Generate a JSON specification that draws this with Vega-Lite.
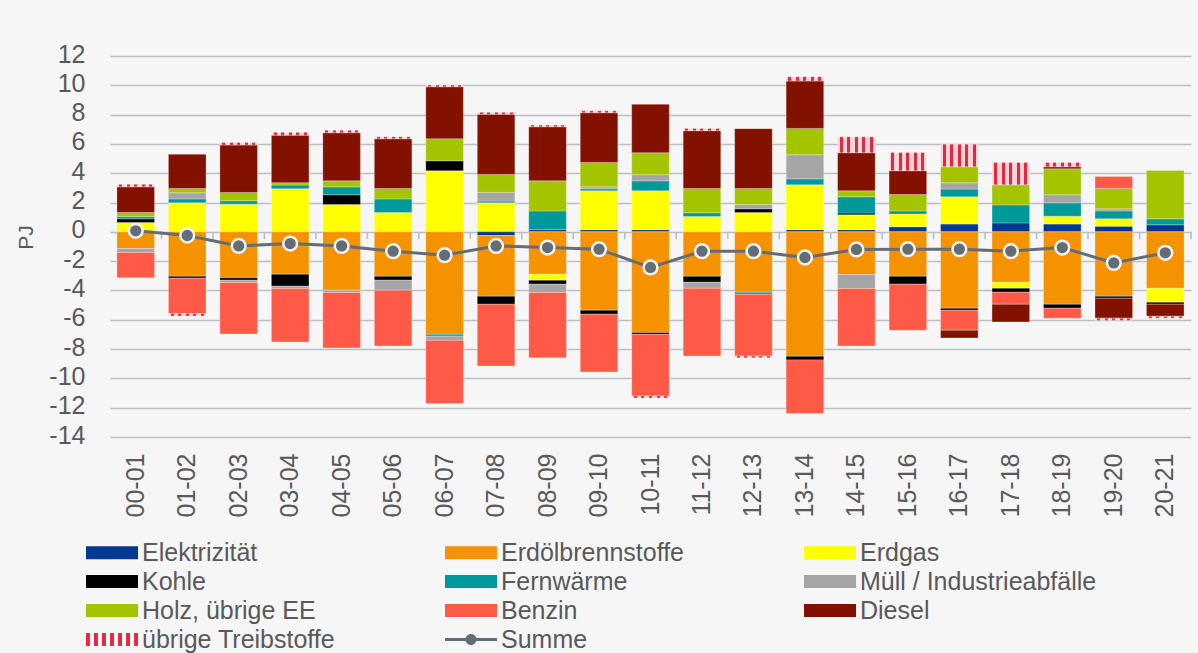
{
  "$schema": "https://vega.github.io/schema/vega-lite/v6.json",
  "width": 1081,
  "height": 381,
  "autosize": {"type": "none"},
  "padding": {"left": 110, "top": 56, "right": 7, "bottom": 216},
  "background": "#f6f6f6",
  "config": {
    "view": {"stroke": null},
    "font": "Liberation Sans",
    "axis": {"labelFont": "Liberation Sans", "titleFont": "Liberation Sans", "labelColor": "#595959", "titleColor": "#595959"}
  },
  "datasets": {
    "kinds": [
      {"k": "Elektrizität", "o": 1}, {"k": "Erdölbrennstoffe", "o": 2}, {"k": "Erdgas", "o": 3},
      {"k": "Kohle", "o": 4}, {"k": "Fernwärme", "o": 5}, {"k": "Müll / Industrieabfälle", "o": 6},
      {"k": "Holz, übrige EE", "o": 7}, {"k": "Benzin", "o": 8}, {"k": "Diesel", "o": 9},
      {"k": "übrige Treibstoffe", "o": 10}, {"k": "Summe", "o": 11}
    ],
    "vals": [
      {"p": "00-01", "k": "Erdgas", "v": 0.64}, {"p": "00-01", "k": "Kohle", "v": 0.25}, {"p": "00-01", "k": "Fernwärme", "v": 0.16}, {"p": "00-01", "k": "Holz, übrige EE", "v": 0.27}, {"p": "00-01", "k": "Diesel", "v": 1.75}, {"p": "00-01", "k": "übrige Treibstoffe", "v": 0.17}, {"p": "00-01", "k": "Erdölbrennstoffe", "v": -1.14}, {"p": "00-01", "k": "Müll / Industrieabfälle", "v": -0.27}, {"p": "00-01", "k": "Benzin", "v": -1.73}, {"p": "00-01", "k": "Summe", "v": 0.07},
      {"p": "01-02", "k": "Erdgas", "v": 1.98}, {"p": "01-02", "k": "Fernwärme", "v": 0.27}, {"p": "01-02", "k": "Müll / Industrieabfälle", "v": 0.42}, {"p": "01-02", "k": "Holz, übrige EE", "v": 0.29}, {"p": "01-02", "k": "Diesel", "v": 2.33}, {"p": "01-02", "k": "Erdölbrennstoffe", "v": -3.03}, {"p": "01-02", "k": "Kohle", "v": -0.13}, {"p": "01-02", "k": "Benzin", "v": -2.42}, {"p": "01-02", "k": "übrige Treibstoffe", "v": -0.16}, {"p": "01-02", "k": "Summe", "v": -0.25},
      {"p": "02-03", "k": "Erdgas", "v": 1.89}, {"p": "02-03", "k": "Fernwärme", "v": 0.23}, {"p": "02-03", "k": "Holz, übrige EE", "v": 0.57}, {"p": "02-03", "k": "Diesel", "v": 3.23}, {"p": "02-03", "k": "übrige Treibstoffe", "v": 0.18}, {"p": "02-03", "k": "Erdölbrennstoffe", "v": -3.14}, {"p": "02-03", "k": "Kohle", "v": -0.16}, {"p": "02-03", "k": "Müll / Industrieabfälle", "v": -0.16}, {"p": "02-03", "k": "Benzin", "v": -3.51}, {"p": "02-03", "k": "Summe", "v": -0.96},
      {"p": "03-04", "k": "Erdgas", "v": 2.94}, {"p": "03-04", "k": "Fernwärme", "v": 0.25}, {"p": "03-04", "k": "Holz, übrige EE", "v": 0.16}, {"p": "03-04", "k": "Diesel", "v": 3.25}, {"p": "03-04", "k": "übrige Treibstoffe", "v": 0.19}, {"p": "03-04", "k": "Erdölbrennstoffe", "v": -2.89}, {"p": "03-04", "k": "Kohle", "v": -0.82}, {"p": "03-04", "k": "Müll / Industrieabfälle", "v": -0.16}, {"p": "03-04", "k": "Benzin", "v": -3.64}, {"p": "03-04", "k": "Summe", "v": -0.8},
      {"p": "04-05", "k": "Erdgas", "v": 1.87}, {"p": "04-05", "k": "Kohle", "v": 0.66}, {"p": "04-05", "k": "Fernwärme", "v": 0.54}, {"p": "04-05", "k": "Holz, übrige EE", "v": 0.41}, {"p": "04-05", "k": "Diesel", "v": 3.28}, {"p": "04-05", "k": "übrige Treibstoffe", "v": 0.17}, {"p": "04-05", "k": "Erdölbrennstoffe", "v": -3.98}, {"p": "04-05", "k": "Müll / Industrieabfälle", "v": -0.16}, {"p": "04-05", "k": "Benzin", "v": -3.78}, {"p": "04-05", "k": "Summe", "v": -0.96},
      {"p": "05-06", "k": "Erdgas", "v": 1.32}, {"p": "05-06", "k": "Fernwärme", "v": 0.93}, {"p": "05-06", "k": "Holz, übrige EE", "v": 0.71}, {"p": "05-06", "k": "Diesel", "v": 3.39}, {"p": "05-06", "k": "übrige Treibstoffe", "v": 0.14}, {"p": "05-06", "k": "Erdölbrennstoffe", "v": -3.03}, {"p": "05-06", "k": "Kohle", "v": -0.27}, {"p": "05-06", "k": "Müll / Industrieabfälle", "v": -0.68}, {"p": "05-06", "k": "Benzin", "v": -3.81}, {"p": "05-06", "k": "Summe", "v": -1.32},
      {"p": "06-07", "k": "Erdgas", "v": 4.17}, {"p": "06-07", "k": "Kohle", "v": 0.68}, {"p": "06-07", "k": "Holz, übrige EE", "v": 1.5}, {"p": "06-07", "k": "Diesel", "v": 3.55}, {"p": "06-07", "k": "übrige Treibstoffe", "v": 0.12}, {"p": "06-07", "k": "Erdölbrennstoffe", "v": -6.99}, {"p": "06-07", "k": "Fernwärme", "v": -0.13}, {"p": "06-07", "k": "Müll / Industrieabfälle", "v": -0.28}, {"p": "06-07", "k": "Benzin", "v": -4.32}, {"p": "06-07", "k": "Summe", "v": -1.59},
      {"p": "07-08", "k": "Erdgas", "v": 1.98}, {"p": "07-08", "k": "Fernwärme", "v": 0.12}, {"p": "07-08", "k": "Müll / Industrieabfälle", "v": 0.59}, {"p": "07-08", "k": "Holz, übrige EE", "v": 1.23}, {"p": "07-08", "k": "Diesel", "v": 4.1}, {"p": "07-08", "k": "übrige Treibstoffe", "v": 0.14}, {"p": "07-08", "k": "Elektrizität", "v": -0.25}, {"p": "07-08", "k": "Erdölbrennstoffe", "v": -4.14}, {"p": "07-08", "k": "Kohle", "v": -0.55}, {"p": "07-08", "k": "Benzin", "v": -4.21}, {"p": "07-08", "k": "Summe", "v": -0.96},
      {"p": "08-09", "k": "Elektrizität", "v": 0.15}, {"p": "08-09", "k": "Fernwärme", "v": 1.28}, {"p": "08-09", "k": "Holz, übrige EE", "v": 2.05}, {"p": "08-09", "k": "Diesel", "v": 3.69}, {"p": "08-09", "k": "übrige Treibstoffe", "v": 0.12}, {"p": "08-09", "k": "Erdölbrennstoffe", "v": -2.89}, {"p": "08-09", "k": "Erdgas", "v": -0.41}, {"p": "08-09", "k": "Kohle", "v": -0.27}, {"p": "08-09", "k": "Müll / Industrieabfälle", "v": -0.57}, {"p": "08-09", "k": "Benzin", "v": -4.46}, {"p": "08-09", "k": "Summe", "v": -1.07},
      {"p": "09-10", "k": "Elektrizität", "v": 0.15}, {"p": "09-10", "k": "Erdgas", "v": 2.65}, {"p": "09-10", "k": "Fernwärme", "v": 0.14}, {"p": "09-10", "k": "Müll / Industrieabfälle", "v": 0.13}, {"p": "09-10", "k": "Holz, übrige EE", "v": 1.67}, {"p": "09-10", "k": "Diesel", "v": 3.39}, {"p": "09-10", "k": "übrige Treibstoffe", "v": 0.14}, {"p": "09-10", "k": "Erdölbrennstoffe", "v": -5.35}, {"p": "09-10", "k": "Kohle", "v": -0.27}, {"p": "09-10", "k": "Benzin", "v": -3.94}, {"p": "09-10", "k": "Summe", "v": -1.18},
      {"p": "10-11", "k": "Elektrizität", "v": 0.15}, {"p": "10-11", "k": "Erdgas", "v": 2.65}, {"p": "10-11", "k": "Fernwärme", "v": 0.68}, {"p": "10-11", "k": "Müll / Industrieabfälle", "v": 0.42}, {"p": "10-11", "k": "Holz, übrige EE", "v": 1.5}, {"p": "10-11", "k": "Diesel", "v": 3.3}, {"p": "10-11", "k": "Erdölbrennstoffe", "v": -6.87}, {"p": "10-11", "k": "Kohle", "v": -0.12}, {"p": "10-11", "k": "Benzin", "v": -4.21}, {"p": "10-11", "k": "übrige Treibstoffe", "v": -0.14}, {"p": "10-11", "k": "Summe", "v": -2.43},
      {"p": "11-12", "k": "Erdgas", "v": 1.05}, {"p": "11-12", "k": "Fernwärme", "v": 0.25}, {"p": "11-12", "k": "Holz, übrige EE", "v": 1.66}, {"p": "11-12", "k": "Diesel", "v": 3.94}, {"p": "11-12", "k": "übrige Treibstoffe", "v": 0.16}, {"p": "11-12", "k": "Erdölbrennstoffe", "v": -3.03}, {"p": "11-12", "k": "Kohle", "v": -0.41}, {"p": "11-12", "k": "Müll / Industrieabfälle", "v": -0.41}, {"p": "11-12", "k": "Benzin", "v": -4.62}, {"p": "11-12", "k": "Summe", "v": -1.32},
      {"p": "12-13", "k": "Erdgas", "v": 1.32}, {"p": "12-13", "k": "Kohle", "v": 0.25}, {"p": "12-13", "k": "Müll / Industrieabfälle", "v": 0.3}, {"p": "12-13", "k": "Holz, übrige EE", "v": 1.09}, {"p": "12-13", "k": "Diesel", "v": 4.08}, {"p": "12-13", "k": "Erdölbrennstoffe", "v": -4.12}, {"p": "12-13", "k": "Fernwärme", "v": -0.14}, {"p": "12-13", "k": "Benzin", "v": -4.21}, {"p": "12-13", "k": "übrige Treibstoffe", "v": -0.13}, {"p": "12-13", "k": "Summe", "v": -1.32},
      {"p": "13-14", "k": "Elektrizität", "v": 0.15}, {"p": "13-14", "k": "Erdgas", "v": 3.06}, {"p": "13-14", "k": "Fernwärme", "v": 0.41}, {"p": "13-14", "k": "Müll / Industrieabfälle", "v": 1.64}, {"p": "13-14", "k": "Holz, übrige EE", "v": 1.8}, {"p": "13-14", "k": "Diesel", "v": 3.23}, {"p": "13-14", "k": "übrige Treibstoffe", "v": 0.3}, {"p": "13-14", "k": "Erdölbrennstoffe", "v": -8.49}, {"p": "13-14", "k": "Kohle", "v": -0.25}, {"p": "13-14", "k": "Benzin", "v": -3.66}, {"p": "13-14", "k": "Summe", "v": -1.75},
      {"p": "14-15", "k": "Elektrizität", "v": 0.15}, {"p": "14-15", "k": "Erdgas", "v": 1.01}, {"p": "14-15", "k": "Kohle", "v": 0.12}, {"p": "14-15", "k": "Fernwärme", "v": 1.11}, {"p": "14-15", "k": "Holz, übrige EE", "v": 0.41}, {"p": "14-15", "k": "Diesel", "v": 2.6}, {"p": "14-15", "k": "übrige Treibstoffe", "v": 1.09}, {"p": "14-15", "k": "Erdölbrennstoffe", "v": -2.91}, {"p": "14-15", "k": "Müll / Industrieabfälle", "v": -0.96}, {"p": "14-15", "k": "Benzin", "v": -3.92}, {"p": "14-15", "k": "Summe", "v": -1.2},
      {"p": "15-16", "k": "Elektrizität", "v": 0.35}, {"p": "15-16", "k": "Erdgas", "v": 0.86}, {"p": "15-16", "k": "Fernwärme", "v": 0.22}, {"p": "15-16", "k": "Holz, übrige EE", "v": 1.12}, {"p": "15-16", "k": "Diesel", "v": 1.62}, {"p": "15-16", "k": "übrige Treibstoffe", "v": 1.25}, {"p": "15-16", "k": "Erdölbrennstoffe", "v": -3.03}, {"p": "15-16", "k": "Kohle", "v": -0.54}, {"p": "15-16", "k": "Benzin", "v": -3.14}, {"p": "15-16", "k": "Summe", "v": -1.18},
      {"p": "16-17", "k": "Elektrizität", "v": 0.53}, {"p": "16-17", "k": "Erdgas", "v": 1.86}, {"p": "16-17", "k": "Fernwärme", "v": 0.53}, {"p": "16-17", "k": "Müll / Industrieabfälle", "v": 0.43}, {"p": "16-17", "k": "Holz, übrige EE", "v": 1.09}, {"p": "16-17", "k": "übrige Treibstoffe", "v": 1.53}, {"p": "16-17", "k": "Erdölbrennstoffe", "v": -5.21}, {"p": "16-17", "k": "Kohle", "v": -0.14}, {"p": "16-17", "k": "Benzin", "v": -1.36}, {"p": "16-17", "k": "Diesel", "v": -0.53}, {"p": "16-17", "k": "Summe", "v": -1.18},
      {"p": "17-18", "k": "Elektrizität", "v": 0.61}, {"p": "17-18", "k": "Fernwärme", "v": 1.23}, {"p": "17-18", "k": "Holz, übrige EE", "v": 1.37}, {"p": "17-18", "k": "übrige Treibstoffe", "v": 1.53}, {"p": "17-18", "k": "Erdölbrennstoffe", "v": -3.44}, {"p": "17-18", "k": "Erdgas", "v": -0.41}, {"p": "17-18", "k": "Kohle", "v": -0.27}, {"p": "17-18", "k": "Benzin", "v": -0.82}, {"p": "17-18", "k": "Diesel", "v": -1.21}, {"p": "17-18", "k": "Summe", "v": -1.32},
      {"p": "18-19", "k": "Elektrizität", "v": 0.53}, {"p": "18-19", "k": "Erdgas", "v": 0.54}, {"p": "18-19", "k": "Fernwärme", "v": 0.91}, {"p": "18-19", "k": "Müll / Industrieabfälle", "v": 0.55}, {"p": "18-19", "k": "Holz, übrige EE", "v": 1.77}, {"p": "18-19", "k": "Diesel", "v": 0.14}, {"p": "18-19", "k": "übrige Treibstoffe", "v": 0.3}, {"p": "18-19", "k": "Erdölbrennstoffe", "v": -4.94}, {"p": "18-19", "k": "Kohle", "v": -0.27}, {"p": "18-19", "k": "Benzin", "v": -0.68}, {"p": "18-19", "k": "Summe", "v": -1.07},
      {"p": "19-20", "k": "Elektrizität", "v": 0.39}, {"p": "19-20", "k": "Erdgas", "v": 0.5}, {"p": "19-20", "k": "Fernwärme", "v": 0.54}, {"p": "19-20", "k": "Müll / Industrieabfälle", "v": 0.14}, {"p": "19-20", "k": "Holz, übrige EE", "v": 1.39}, {"p": "19-20", "k": "Benzin", "v": 0.82}, {"p": "19-20", "k": "Erdölbrennstoffe", "v": -4.39}, {"p": "19-20", "k": "Kohle", "v": -0.14}, {"p": "19-20", "k": "Diesel", "v": -1.36}, {"p": "19-20", "k": "übrige Treibstoffe", "v": -0.14}, {"p": "19-20", "k": "Summe", "v": -2.12},
      {"p": "20-21", "k": "Elektrizität", "v": 0.48}, {"p": "20-21", "k": "Fernwärme", "v": 0.41}, {"p": "20-21", "k": "Holz, übrige EE", "v": 3.3}, {"p": "20-21", "k": "Erdölbrennstoffe", "v": -3.85}, {"p": "20-21", "k": "Erdgas", "v": -0.95}, {"p": "20-21", "k": "Kohle", "v": -0.14}, {"p": "20-21", "k": "Diesel", "v": -0.82}, {"p": "20-21", "k": "übrige Treibstoffe", "v": -0.13}, {"p": "20-21", "k": "Summe", "v": -1.43}
    ]
  },
  "data": {"name": "vals"},
  "transform": [
    {"lookup": "k", "from": {"data": {"name": "kinds"}, "key": "k", "fields": ["o"]}}
  ],
  "layer": [
    {
      "transform": [{"filter": "datum.k !== 'Summe'"}],
      "mark": {"type": "bar", "stroke": "#ffffff", "strokeWidth": 0.6, "strokeOpacity": 0.45},
      "encoding": {
        "x": {
          "field": "p", "type": "ordinal", "title": null,
          "scale": {"paddingInner": 0.27, "paddingOuter": 0.135},
          "axis": {"labelAngle": -90, "labelFontSize": 25, "labelPadding": 16, "ticks": false, "tickSize": 0, "domain": false, "grid": false}
        },
        "y": {
          "field": "v", "type": "quantitative", "stack": "zero", "title": "PJ",
          "scale": {"domain": [-14, 12], "nice": false, "zero": false},
          "axis": {
            "values": [-14, -12, -10, -8, -6, -4, -2, 0, 2, 4, 6, 8, 10, 12], "tickCount": 30,
            "labelExpr": "'' + datum.value", "labelOverlap": false, "labelBound": false,
            "labelFontSize": 25, "labelPadding": 25, "labelOffset": -2, "ticks": false, "tickSize": 0, "domain": false,
            "grid": true, "gridColor": "#bcbfc2", "gridWidth": 1.6,
            "titleFontSize": 21, "titleFontWeight": "normal", "titlePadding": 12, "titleY": 181
          }
        },
        "color": {
          "field": "k", "type": "nominal",
          "condition": {
            "test": "datum.k === 'übrige Treibstoffe'",
            "value": {"gradient": "linear", "x1": 0, "x2": 1, "y1": 0, "y2": 0, "stops": [
              {"offset": 0, "color": "#f8d3da"}, {"offset": 0.06, "color": "#f8d3da"}, {"offset": 0.06, "color": "#e12a40"}, {"offset": 0.14, "color": "#e12a40"},
              {"offset": 0.14, "color": "#f8d3da"}, {"offset": 0.26, "color": "#f8d3da"}, {"offset": 0.26, "color": "#e12a40"}, {"offset": 0.34, "color": "#e12a40"},
              {"offset": 0.34, "color": "#f8d3da"}, {"offset": 0.46, "color": "#f8d3da"}, {"offset": 0.46, "color": "#e12a40"}, {"offset": 0.54, "color": "#e12a40"},
              {"offset": 0.54, "color": "#f8d3da"}, {"offset": 0.66, "color": "#f8d3da"}, {"offset": 0.66, "color": "#e12a40"}, {"offset": 0.74, "color": "#e12a40"},
              {"offset": 0.74, "color": "#f8d3da"}, {"offset": 0.86, "color": "#f8d3da"}, {"offset": 0.86, "color": "#e12a40"}, {"offset": 0.94, "color": "#e12a40"},
              {"offset": 0.94, "color": "#f8d3da"}, {"offset": 1, "color": "#f8d3da"}
            ]}
          },
          "scale": {
            "domain": ["Elektrizität", "Erdölbrennstoffe", "Erdgas", "Kohle", "Fernwärme", "Müll / Industrieabfälle", "Holz, übrige EE", "Benzin", "Diesel", "übrige Treibstoffe", "Summe"],
            "range": ["#003893", "#f59200", "#ffff00", "#000000", "#00999a", "#a5a5a5", "#a4c400", "#ff5a47", "#821100", "#e12a40", "#646c76"]
          },
          "legend": {
            "title": null, "orient": "none", "legendX": -30, "legendY": 484, "columns": 3, "direction": "horizontal", "gridAlign": "all",
            "columnPadding": 60, "rowPadding": 3, "padding": 0,
            "labelFont": "Liberation Sans", "labelFontSize": 25, "labelColor": "#595959", "labelLimit": 400, "labelOffset": 37,
            "symbolSize": 169, "symbolType": "M-1,-1H7V1H-1Z", "symbolStrokeWidth": 0, "symbolOpacity": 1
          }
        },
        "order": {"field": "o", "type": "quantitative"}
      }
    },
    {
      "transform": [{"filter": "datum.k === 'Summe'"}],
      "mark": {"type": "rule", "color": "#bcbfc2", "strokeWidth": 1.6},
      "encoding": {
        "x": {"field": "p", "type": "ordinal", "bandPosition": 1.185, "title": null},
        "y": {"datum": 0, "type": "quantitative", "title": "PJ"},
        "y2": {"datum": -0.5}
      }
    },
    {
      "transform": [{"filter": "datum.k === 'Summe'"}],
      "mark": {"type": "line", "strokeWidth": 3, "point": {"filled": true, "size": 190, "stroke": "#f4f4f4", "strokeWidth": 2.5}},
      "encoding": {
        "x": {"field": "p", "type": "ordinal", "title": null},
        "y": {"field": "v", "type": "quantitative", "title": "PJ"},
        "color": {"field": "k", "type": "nominal"}
      }
    },
    {
      "transform": [{"filter": "false"}],
      "mark": {"type": "point", "filled": true},
      "encoding": {
        "x": {"field": "p", "type": "ordinal", "title": null},
        "y": {"field": "v", "type": "quantitative", "title": "PJ"},
        "shape": {
          "field": "k", "type": "nominal",
          "scale": {
            "domain": ["Elektrizität", "Erdölbrennstoffe", "Erdgas", "Kohle", "Fernwärme", "Müll / Industrieabfälle", "Holz, übrige EE", "Benzin", "Diesel", "übrige Treibstoffe", "Summe"],
            "range": ["M-1,-1H7V1H-1Z", "M-1,-1H7V1H-1Z", "M-1,-1H7V1H-1Z", "M-1,-1H7V1H-1Z", "M-1,-1H7V1H-1Z", "M-1,-1H7V1H-1Z", "M-1,-1H7V1H-1Z", "M-1,-1H7V1H-1Z", "M-1,-1H7V1H-1Z",
              "M-1,-1H-0.4V1H-1Z M0.233,-1H0.833V1H0.233Z M1.467,-1H2.067V1H1.467Z M2.7,-1H3.3V1H2.7Z M3.933,-1H4.533V1H3.933Z M5.167,-1H5.767V1H5.167Z M6.4,-1H7V1H6.4Z",
              "M-1,-0.23H7V0.23H-1Z M3.85,0A0.85,0.85 0 1,1 2.15,0A0.85,0.85 0 1,1 3.85,0Z"]
          },
          "legend": {
            "title": null, "orient": "none", "legendX": -30, "legendY": 484, "columns": 3, "direction": "horizontal", "gridAlign": "all",
            "columnPadding": 60, "rowPadding": 3, "padding": 0,
            "labelFont": "Liberation Sans", "labelFontSize": 25, "labelColor": "#595959", "labelLimit": 400, "labelOffset": 37,
            "symbolSize": 169, "symbolStrokeWidth": 0, "symbolOpacity": 1
          }
        }
      }
    }
  ]
}
